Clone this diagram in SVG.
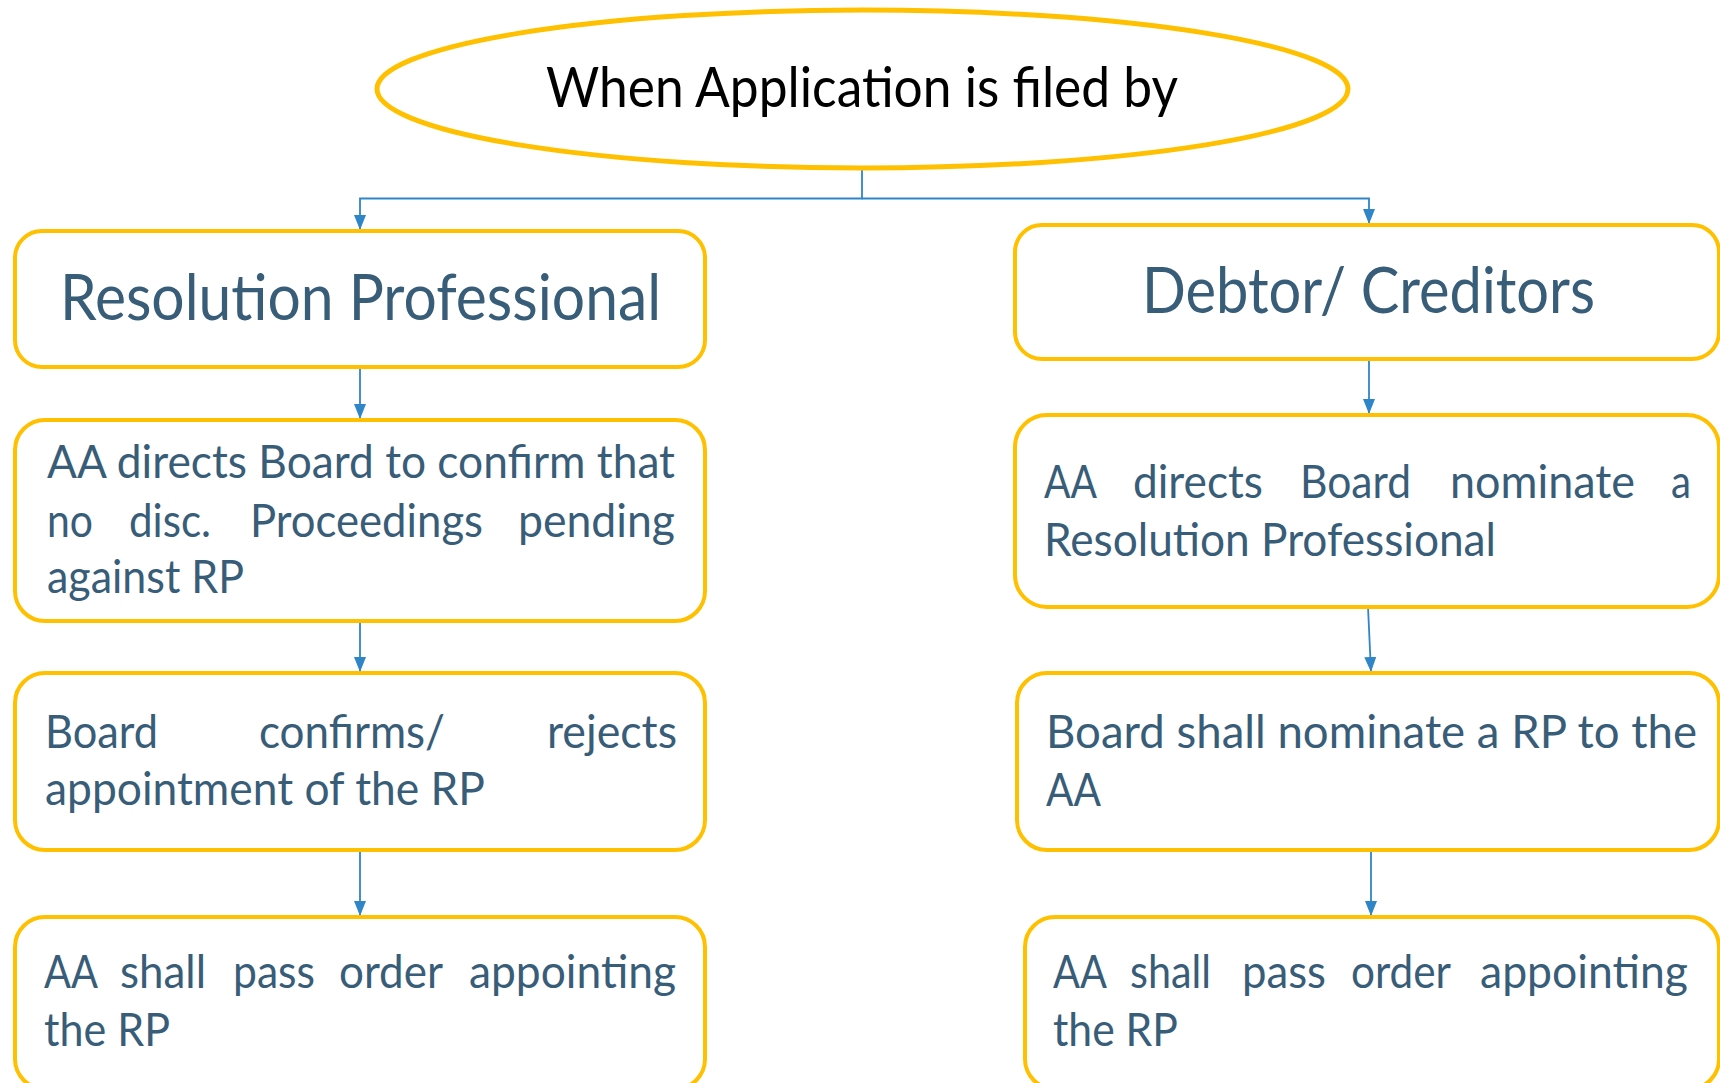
<svg xmlns="http://www.w3.org/2000/svg" width="1720" height="1083" viewBox="0 0 1720 1083">
  <defs>
    <marker id="arrow" markerUnits="userSpaceOnUse" markerWidth="15" markerHeight="13" refX="15" refY="6.5" orient="auto">
      <path d="M0,0.5 L15,6.5 L0,12.5 z" fill="#2E86C8"/>
    </marker>
    <style>
      .box { fill: #FFFFFF; stroke: #FFC000; stroke-width: 4; }
      .oval { fill: #FFFFFF; stroke: #FFC000; stroke-width: 5; }
      .link { fill: none; stroke: #2E86C8; stroke-width: 1.8; marker-end: url(#arrow); }
      .title { font-family: Lato, "Liberation Sans", sans-serif; font-size: 57px; fill: #000000; }
      .head { font-family: Lato, "Liberation Sans", sans-serif; font-size: 63px; fill: #385D78; }
      .body { font-family: Lato, "Liberation Sans", sans-serif; font-size: 46px; fill: #385D78; }
    </style>
  </defs>
  <rect width="1720" height="1083" fill="#FFFFFF"/>

  <!-- connectors -->
  <g id="connectors">
    <path class="link" d="M862,168 V198.5 H360 V230"/>
    <path class="link" d="M862,198.5 H1369 V224"/>
    <path class="link" d="M360,367 V419"/>
    <path class="link" d="M360,621 V672"/>
    <path class="link" d="M360,850 V916"/>
    <path class="link" d="M1369,359 V414"/>
    <path class="link" d="M1368,607 L1371,672"/>
    <path class="link" d="M1371,850 V916"/>
  </g>

  <!-- root -->
  <g id="root">
    <ellipse class="oval" cx="862.5" cy="89" rx="485.5" ry="79"/>
    <text class="title" x="546" y="107" textLength="632" lengthAdjust="spacingAndGlyphs">When Application is filed by</text>
  </g>

  <!-- left branch -->
  <g id="rp">
    <rect class="box" x="15" y="231" width="690" height="136" rx="27"/>
    <text class="head" x="60" y="320" textLength="601" lengthAdjust="spacingAndGlyphs">Resolution Professional</text>
  </g>

  <g id="rp-confirm">
    <rect class="box" x="15" y="420" width="690" height="201" rx="30"/>
    <text class="body" x="47" y="478" textLength="628" lengthAdjust="spacingAndGlyphs">AA directs Board to confirm that</text>
    <text class="body" x="47" y="537" textLength="46" lengthAdjust="spacingAndGlyphs">no</text>
    <text class="body" x="129" y="537" textLength="82" lengthAdjust="spacingAndGlyphs">disc.</text>
    <text class="body" x="250" y="537" textLength="233" lengthAdjust="spacingAndGlyphs">Proceedings</text>
    <text class="body" x="518" y="537" textLength="157" lengthAdjust="spacingAndGlyphs">pending</text>
    <text class="body" x="47" y="593" textLength="197" lengthAdjust="spacingAndGlyphs">against RP</text>
  </g>

  <g id="rp-board">
    <rect class="box" x="15" y="673" width="690" height="177" rx="30"/>
    <text class="body" x="45" y="748" textLength="113" lengthAdjust="spacingAndGlyphs">Board</text>
    <text class="body" x="259" y="748" textLength="186" lengthAdjust="spacingAndGlyphs">confirms/</text>
    <text class="body" x="547" y="748" textLength="130" lengthAdjust="spacingAndGlyphs">rejects</text>
    <text class="body" x="45" y="805" textLength="440" lengthAdjust="spacingAndGlyphs">appointment of the RP</text>
  </g>

  <g id="rp-order">
    <rect class="box" x="15" y="917" width="690" height="172" rx="30"/>
    <text class="body" x="44" y="988" textLength="54" lengthAdjust="spacingAndGlyphs">AA</text>
    <text class="body" x="120" y="988" textLength="86" lengthAdjust="spacingAndGlyphs">shall</text>
    <text class="body" x="233" y="988" textLength="82" lengthAdjust="spacingAndGlyphs">pass</text>
    <text class="body" x="339" y="988" textLength="104" lengthAdjust="spacingAndGlyphs">order</text>
    <text class="body" x="469" y="988" textLength="207" lengthAdjust="spacingAndGlyphs">appointing</text>
    <text class="body" x="44" y="1046" textLength="126" lengthAdjust="spacingAndGlyphs">the RP</text>
  </g>

  <!-- right branch -->
  <g id="debtor">
    <rect class="box" x="1015" y="225" width="704" height="134" rx="27"/>
    <text class="head" x="1142" y="313" textLength="453" lengthAdjust="spacingAndGlyphs">Debtor/ Creditors</text>
  </g>

  <g id="debtor-nominate">
    <rect class="box" x="1015" y="415" width="704" height="192" rx="32"/>
    <text class="body" x="1044" y="498" textLength="53" lengthAdjust="spacingAndGlyphs">AA</text>
    <text class="body" x="1133" y="498" textLength="130" lengthAdjust="spacingAndGlyphs">directs</text>
    <text class="body" x="1300" y="498" textLength="111" lengthAdjust="spacingAndGlyphs">Board</text>
    <text class="body" x="1450" y="498" textLength="185" lengthAdjust="spacingAndGlyphs">nominate</text>
    <text class="body" x="1671" y="498" textLength="20" lengthAdjust="spacingAndGlyphs">a</text>
    <text class="body" x="1044" y="556" textLength="452" lengthAdjust="spacingAndGlyphs">Resolution Professional</text>
  </g>

  <g id="debtor-board">
    <rect class="box" x="1017" y="673" width="702" height="177" rx="30"/>
    <text class="body" x="1046" y="748" textLength="651" lengthAdjust="spacingAndGlyphs">Board shall nominate a RP to the</text>
    <text class="body" x="1046" y="806" textLength="55" lengthAdjust="spacingAndGlyphs">AA</text>
  </g>

  <g id="debtor-order">
    <rect class="box" x="1025" y="917" width="694" height="172" rx="30"/>
    <text class="body" x="1053" y="988" textLength="54" lengthAdjust="spacingAndGlyphs">AA</text>
    <text class="body" x="1130" y="988" textLength="81" lengthAdjust="spacingAndGlyphs">shall</text>
    <text class="body" x="1242" y="988" textLength="84" lengthAdjust="spacingAndGlyphs">pass</text>
    <text class="body" x="1351" y="988" textLength="100" lengthAdjust="spacingAndGlyphs">order</text>
    <text class="body" x="1480" y="988" textLength="208" lengthAdjust="spacingAndGlyphs">appointing</text>
    <text class="body" x="1053" y="1046" textLength="125" lengthAdjust="spacingAndGlyphs">the RP</text>
  </g>
</svg>
